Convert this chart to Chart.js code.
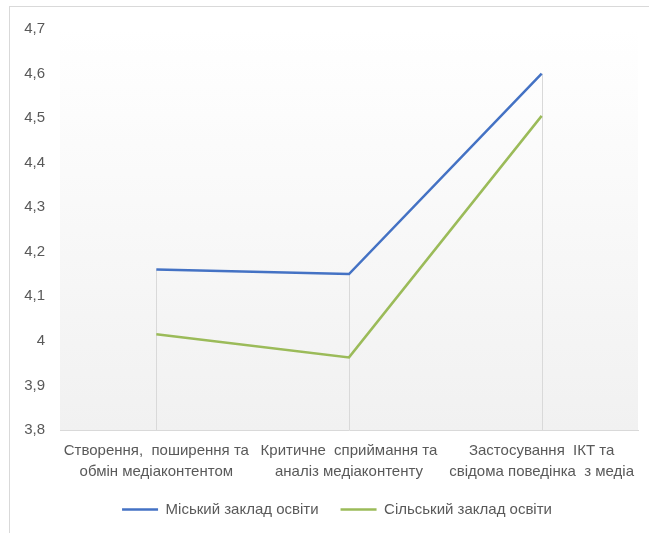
<!DOCTYPE html>
<html>
<head>
<meta charset="utf-8">
<script src="https://cdn.jsdelivr.net/npm/chart.js@4.4.1/dist/chart.umd.min.js"></script>
<style>
  html, body { margin: 0; padding: 0; background: #fff; }
  #wrap { position: relative; width: 649px; height: 533px; overflow: hidden; }
  #frame { position: absolute; left: 9px; top: 6px; width: 700px; height: 600px; border: 1px solid #d9d9d9; }
  #chart { position: absolute; left: 0; top: 0; }
</style>
</head>
<body>
<div id="wrap">
  <div id="frame"></div>
  <canvas id="chart" width="649" height="533"></canvas>
</div>
<script>
// ── Data ────────────────────────────────────────────────────────────
const categories = [
  ['Створення,  поширення та', 'обмін медіаконтентом'],
  ['Критичне  сприймання та', 'аналіз медіаконтенту'],
  ['Застосування  ІКТ та', 'свідома поведінка  з медіа'],
];
const seriesNames = ['Міський заклад освіти', 'Сільський заклад освіти'];
const urbanValues = [4.16, 4.15, 4.60];
const ruralValues = [4.015, 3.963, 4.505];
const yTicks = [3.8, 3.9, 4.0, 4.1, 4.2, 4.3, 4.4, 4.5, 4.6, 4.7];

const FONT = '"Liberation Sans", Arial, sans-serif';
const TEXT = '#595959';

// ── Plugins ─────────────────────────────────────────────────────────
// plot area shading, light gradient like the original
const plotBackground = {
  id: 'plotBackground',
  beforeDraw(chart) {
    const { ctx, chartArea: a } = chart;
    const g = ctx.createLinearGradient(0, a.top, 0, a.bottom);
    g.addColorStop(0, '#ffffff');
    g.addColorStop(1, '#f1f1f1');
    ctx.save();
    ctx.fillStyle = g;
    ctx.fillRect(a.left, a.top, a.right - a.left, a.bottom - a.top);
    ctx.restore();
  },
};

// drop lines from the highest point of each category to the axis
const dropLines = {
  id: 'dropLines',
  beforeDatasetsDraw(chart) {
    const { ctx, chartArea: a } = chart;
    const metas = chart.data.datasets.map((d, i) => chart.getDatasetMeta(i));
    ctx.save();
    ctx.strokeStyle = '#d9d9d9';
    ctx.lineWidth = 1;
    metas[0].data.forEach((pt, i) => {
      const top = Math.min(...metas.map(m => m.data[i].y));
      const x = Math.round(pt.x) + 0.5;
      ctx.beginPath();
      ctx.moveTo(x, top);
      ctx.lineTo(x, a.bottom);
      ctx.stroke();
    });
    ctx.restore();
  },
};

// legend sits a bit right of the canvas centre in the original
const legendShift = {
  id: 'legendShift',
  afterLayout(chart) {
    chart.legend.left += 18;
    chart.legend.right += 18;
  },
};

// ── Chart ───────────────────────────────────────────────────────────
new Chart(document.getElementById('chart').getContext('2d'), {
  type: 'line',
  data: {
    labels: categories,
    datasets: [
      {
        label: seriesNames[0],
        data: urbanValues,
        borderColor: '#4472C4',
        backgroundColor: '#4472C4',
        borderWidth: 2.5,
        pointRadius: 0,
        tension: 0,
      },
      {
        label: seriesNames[1],
        data: ruralValues,
        borderColor: '#9BBB59',
        backgroundColor: '#9BBB59',
        borderWidth: 2.5,
        pointRadius: 0,
        tension: 0,
      },
    ],
  },
  options: {
    responsive: false,
    animation: false,
    layout: { padding: { left: 0, right: 11, top: 29, bottom: 6 } },
    plugins: {
      tooltip: { enabled: false },
      legend: {
        position: 'bottom',
        labels: {
          usePointStyle: true,
          pointStyle: 'line',
          pointStyleWidth: 36,
          boxHeight: 2,
          padding: 22,
          color: TEXT,
          font: { family: FONT, size: 15 },
        },
      },
    },
    scales: {
      x: {
        offset: true,
        grid: { display: false, drawTicks: false },
        border: { display: true, color: '#d9d9d9', width: 1 },
        ticks: {
          color: TEXT,
          padding: 10,
          maxRotation: 0,
          autoSkip: false,
          font: { family: FONT, size: 15, lineHeight: 1.4 },
        },
        afterFit: s => { s.height = 50; },
      },
      y: {
        min: 3.8,
        max: 4.7,
        afterBuildTicks: s => { s.ticks = yTicks.map(v => ({ value: v })); },
        grid: { display: false, drawTicks: false },
        border: { display: false },
        ticks: {
          color: TEXT,
          padding: 15,
          font: { family: FONT, size: 15 },
          callback: v => String(Math.round(v * 10) / 10).replace('.', ','),
        },
        afterFit: s => { s.width = 60; },
      },
    },
  },
  plugins: [plotBackground, dropLines, legendShift],
});
</script>
</body>
</html>
